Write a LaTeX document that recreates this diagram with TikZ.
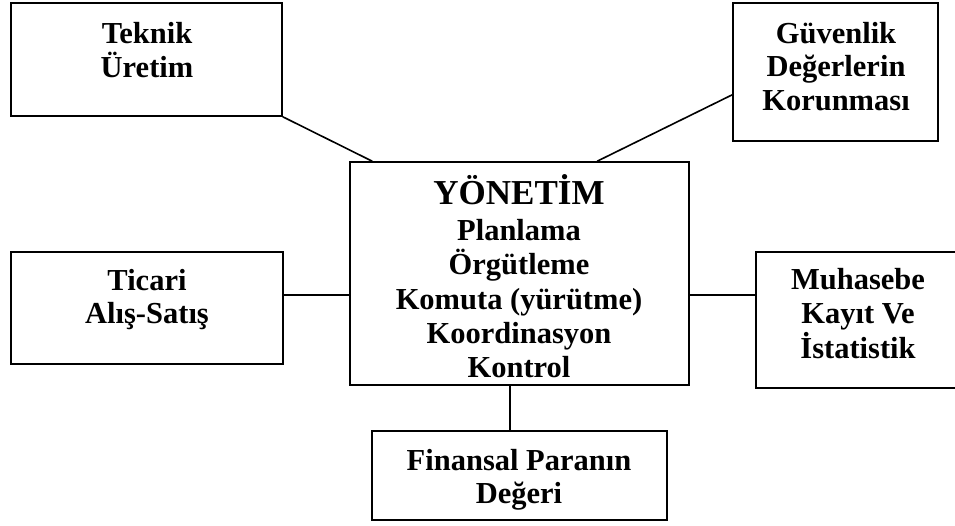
\documentclass[tikz,border=0pt]{standalone}
\usepackage{fontspec}
\setmainfont{Liberation Serif}
\usetikzlibrary{calc}
\tikzset{
  box/.style={draw=black, line width=1.6pt, rectangle, inner sep=0pt},
  conn/.style={draw=black, line width=1.6pt},
  txt/.style={anchor=base, inner sep=0pt, font=\fontsize{30.5}{34}\selectfont\bfseries},
  big/.style={anchor=base, inner sep=0pt, font=\fontsize{35}{40}\selectfont\bfseries}
}
\begin{document}
\begin{tikzpicture}[x=1pt,y=-1pt]
\clip (0,0) rectangle (955,525);
\fill[white] (0,0) rectangle (955,525);
% boxes
\node[box, minimum width=271pt, minimum height=113pt] (tek) at (146.5,59.5) {};
\node[box, minimum width=205pt, minimum height=138pt] (guv) at (835.5,72) {};
\node[box, minimum width=339pt, minimum height=223pt] (yon) at (519.5,273.5) {};
\node[box, minimum width=272pt, minimum height=112pt] (tic) at (147,308) {};
\node[box, minimum width=204pt, minimum height=136pt] (muh) at (858,320) {};
\node[box, minimum width=295pt, minimum height=89pt] (fin) at (519.5,475.5) {};
% texts
\node[txt] (tek1) at (147,43) {Teknik};
\node[txt] (tek2) at (147,77) {Üretim};
\node[txt] (guv1) at (836,43) {Güvenlik};
\node[txt] (guv2) at (836,76) {Değerlerin};
\node[txt] (guv3) at (836,110) {Korunması};
\node[big] (yon0) at (519,204) {YÖNETİM};
\node[txt] (yon1) at (519,240) {Planlama};
\node[txt] (yon2) at (519,274) {Örgütleme};
\node[txt] (yon3) at (519,309) {Komuta (yürütme)};
\node[txt] (yon4) at (519,343) {Koordinasyon};
\node[txt] (yon5) at (519,377) {Kontrol};
\node[txt] (tic1) at (147,290) {Ticari};
\node[txt] (tic2) at (147,323) {Alış-Satış};
\node[txt] (muh1) at (858,289) {Muhasebe};
\node[txt] (muh2) at (858,323) {Kayıt Ve};
\node[txt] (muh3) at (858,358) {İstatistik};
\node[txt] (fin1) at (519,470) {Finansal Paranın};
\node[txt] (fin2) at (519,503) {Değeri};
% connectors
\draw[conn] (tek.south east) -- ($(yon.north west)+(23,0)$);
\draw[conn] ($(guv.south west)+(0,-47)$) -- ($(yon.north west)+(248,0)$);
\draw[conn] ($(tic.north east)+(0,44)$) -- ($(yon.north west)+(0,134)$);
\draw[conn] ($(yon.north east)+(0,134)$) -- ($(muh.north west)+(0,44)$);
\draw[conn] ($(yon.south)+(-9.5,0)$) -- ($(fin.north)+(-9.5,0)$);
\end{tikzpicture}
\end{document}
